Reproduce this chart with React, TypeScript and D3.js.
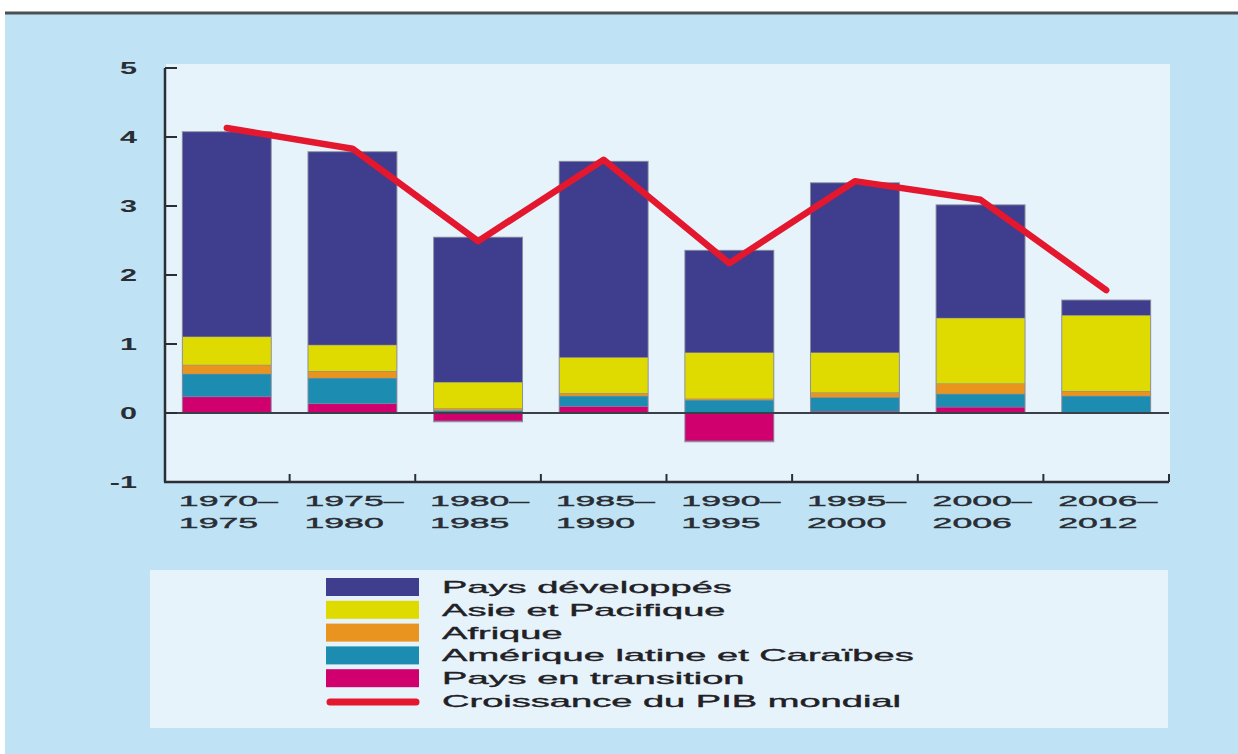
import React, { useEffect, useRef } from "react";
import * as d3 from "d3";

const periods = [
	["1970–", "1975"],
	["1975–", "1980"],
	["1980–", "1985"],
	["1985–", "1990"],
	["1990–", "1995"],
	["1995–", "2000"],
	["2000–", "2006"],
	["2006–", "2012"],
];

const transition = [0.23, 0.13, -0.12, 0.09, -0.41, 0.02, 0.08, 0.0];
const latine = [0.33, 0.37, 0.03, 0.15, 0.18, 0.2, 0.19, 0.24];
const afrique = [0.13, 0.1, 0.03, 0.04, 0.02, 0.07, 0.15, 0.07];
const asie = [0.41, 0.38, 0.38, 0.52, 0.67, 0.58, 0.95, 1.1];
const developpes = [2.97, 2.8, 2.1, 2.84, 1.48, 2.46, 1.64, 0.22];
const pibMondial = [4.13, 3.83, 2.49, 3.67, 2.17, 3.36, 3.09, 1.78];

const yTicks = [-1, 0, 1, 2, 3, 4, 5];

const seriesKeys = ["transition", "latine", "afrique", "asie", "developpes"];
const seriesColors = ["#d1006f", "#1c8db0", "#e8941f", "#dfdb00", "#3f3d8e"];
const legendLabels = [
	"Pays développés",
	"Asie et Pacifique",
	"Afrique",
	"Amérique latine et Caraïbes",
	"Pays en transition",
	"Croissance du PIB mondial",
];

export default function App() {
	const svgRef = useRef(null);

	useEffect(() => {
		const svg = d3.select(svgRef.current);
		svg.selectAll("*").remove();

		const width = 1238;
		const height = 754;
		const font = "'Liberation Sans', Arial, sans-serif";
		// the source picture is stretched sideways, so the text is too
		const stretch = (px, py, sx) => `translate(${px},${py}) scale(${sx},1)`;

		// background
		svg.append("rect").attr("width", width).attr("height", height).attr("fill", "#ffffff");
		svg.append("rect").attr("x", 5).attr("y", 13).attr("width", width - 5).attr("height", height - 13).attr("fill", "#bfe3f5");
		svg.append("line").attr("x1", 5).attr("x2", width).attr("y1", 13).attr("y2", 13).attr("stroke", "#4a4f55").attr("stroke-width", 3);

		const x = d3
			.scaleBand()
			.domain(periods.map((p) => p.join("")))
			.range([164, 1169])
			.paddingInner(0.3)
			.paddingOuter(0.15);
		const y = d3.scaleLinear().domain([-1, 5]).range([482, 68]);

		// plot panel
		svg.append("rect").attr("x", 166).attr("y", 64).attr("width", 1004).attr("height", 418).attr("fill", "#e7f3fb");

		const rows = periods.map((p, i) => ({
			name: p.join(""),
			transition: transition[i],
			latine: latine[i],
			afrique: afrique[i],
			asie: asie[i],
			developpes: developpes[i],
		}));

		const stacked = d3.stack().keys(seriesKeys).offset(d3.stackOffsetDiverging)(rows);

		// bar outlines
		svg
			.append("g")
			.selectAll("rect")
			.data(rows)
			.join("rect")
			.attr("x", (d) => x(d.name) - 1)
			.attr("width", x.bandwidth() + 2)
			.attr("y", (d, i) => y(d3.max(stacked, (s) => s[i][1])) - 1)
			.attr("height", (d, i) => y(d3.min(stacked, (s) => s[i][0])) - y(d3.max(stacked, (s) => s[i][1])) + 2)
			.attr("fill", "#8b8fa0");

		svg
			.append("g")
			.selectAll("g")
			.data(stacked)
			.join("g")
			.attr("fill", (d, i) => seriesColors[i])
			.selectAll("rect")
			.data((d) => d)
			.join("rect")
			.attr("x", (d) => x(d.data.name))
			.attr("width", x.bandwidth())
			.attr("y", (d) => y(d[1]))
			.attr("height", (d) => Math.max(0, y(d[0]) - y(d[1]) - 0.6));

		// zero line
		svg.append("line").attr("x1", 165).attr("x2", 1169).attr("y1", y(0)).attr("y2", y(0)).attr("stroke", "#3b4048").attr("stroke-width", 2);

		// y axis
		const yAxis = svg.append("g");
		yAxis.append("line").attr("x1", 165).attr("x2", 165).attr("y1", y(5)).attr("y2", y(-1)).attr("stroke", "#2b2f35").attr("stroke-width", 2.5);
		yAxis
			.selectAll("line.tick")
			.data(yTicks)
			.join("line")
			.attr("class", "tick")
			.attr("x1", 165)
			.attr("x2", 177)
			.attr("y1", (d) => y(d))
			.attr("y2", (d) => y(d))
			.attr("stroke", "#2b2f35")
			.attr("stroke-width", 2);
		yAxis
			.selectAll("text")
			.data(yTicks)
			.join("text")
			.attr("transform", (d) => stretch(137, y(d) + 6, 1.8))
			.attr("text-anchor", "end")
			.attr("font-family", font)
			.attr("font-weight", "bold")
			.attr("font-size", 17)
			.attr("fill", "#2a2d33")
			.text((d) => (d < 0 ? "-" + Math.abs(d) : d));

		// x axis
		const xAxis = svg.append("g");
		xAxis.append("line").attr("x1", 164).attr("x2", 1169).attr("y1", y(-1)).attr("y2", y(-1)).attr("stroke", "#2b2f35").attr("stroke-width", 2.5);
		const bounds = periods.map((p) => x(p.join("")) + x.bandwidth() + (x.step() * x.paddingInner()) / 2);
		xAxis
			.selectAll("line.tick")
			.data(bounds)
			.join("line")
			.attr("class", "tick")
			.attr("x1", (d) => d)
			.attr("x2", (d) => d)
			.attr("y1", y(-1))
			.attr("y2", y(-1) - 8)
			.attr("stroke", "#2b2f35")
			.attr("stroke-width", 2);
		const labels = xAxis
			.selectAll("g.lab")
			.data(periods)
			.join("g")
			.attr("class", "lab");
		labels
			.append("text")
			.attr("transform", (d) => stretch(x(d.join("")) - 4, 506, 2.3))
			.attr("font-family", font)
			.attr("font-size", 15.5)
			.attr("fill", "#2a2d33")
			.attr("stroke", "#2a2d33")
			.attr("stroke-width", 0.4)
			.text((d) => d[0]);
		labels
			.append("text")
			.attr("transform", (d) => stretch(x(d.join("")) - 4, 528, 2.3))
			.attr("font-family", font)
			.attr("font-size", 15.5)
			.attr("fill", "#2a2d33")
			.attr("stroke", "#2a2d33")
			.attr("stroke-width", 0.4)
			.text((d) => d[1]);

		// red line
		const line = d3
			.line<number>()
			.x((d, i) => x(periods[i].join("")) + x.bandwidth() / 2)
			.y((d) => y(d));
		svg
			.append("path")
			.attr("d", line(pibMondial))
			.attr("fill", "none")
			.attr("stroke", "#e3172e")
			.attr("stroke-width", 6.5)
			.attr("stroke-linejoin", "round")
			.attr("stroke-linecap", "round");

		// legend
		const legend = svg.append("g");
		legend.append("rect").attr("x", 150).attr("y", 570).attr("width", 1018).attr("height", 158).attr("fill", "#e7f3fb");
		const legendColors = [...seriesColors].reverse();
		const rowY = d3.scaleLinear().domain([0, 5]).range([587, 701]);
		const items = legend
			.selectAll("g")
			.data(legendLabels)
			.join("g")
			.attr("transform", (d, i) => `translate(0,${rowY(i)})`);
		items
			.filter((d, i) => i < 5)
			.append("rect")
			.attr("x", 326)
			.attr("y", -9)
			.attr("width", 93)
			.attr("height", 18)
			.attr("fill", (d, i) => legendColors[i]);
		items
			.filter((d, i) => i === 5)
			.append("line")
			.attr("x1", 330)
			.attr("x2", 416)
			.attr("y1", 1)
			.attr("y2", 1)
			.attr("stroke", "#e3172e")
			.attr("stroke-width", 7)
			.attr("stroke-linecap", "round");
		items
			.append("text")
			.attr("transform", stretch(442, 6, 2.38))
			.attr("font-family", font)
			.attr("font-size", 16)
			.attr("fill", "#1f2126")
			.attr("stroke", "#1f2126")
			.attr("stroke-width", 0.35)
			.text((d) => d);
	}, []);

	return (
		<div style={{ position: "absolute", top: 0, left: 0 }}>
			<svg ref={svgRef} width={1238} height={754} style={{ display: "block" }} />
		</div>
	);
}
